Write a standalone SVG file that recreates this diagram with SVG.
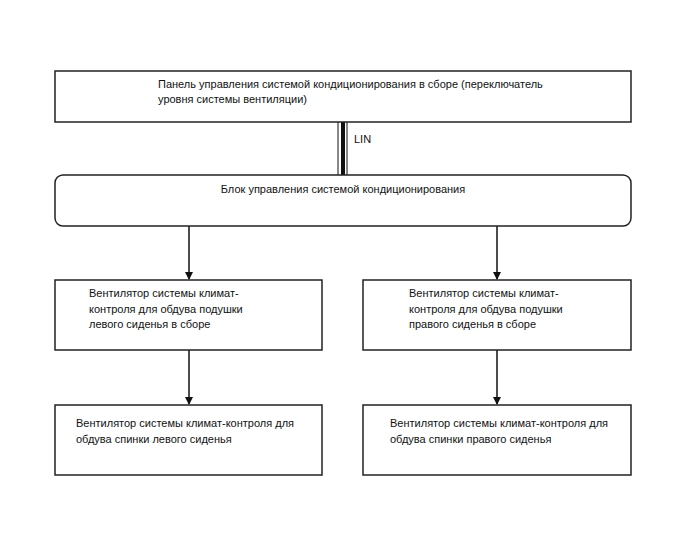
<svg xmlns="http://www.w3.org/2000/svg" width="688" height="560" viewBox="0 0 688 560">
<defs>
<style>
.box{fill:#fff;stroke:#222;stroke-width:1.5}
.t{font-family:"Liberation Sans",Arial,sans-serif;font-size:11px;fill:#111}
.c{fill:none;stroke:#111;stroke-width:1.5}
</style>
<marker id="ah" markerWidth="8" markerHeight="10" refX="7" refY="4" orient="auto" markerUnits="userSpaceOnUse" viewBox="0 0 8 8">
<path d="M0,0 L8,4 L0,8 Z" fill="#111"/>
</marker>
</defs>
<rect width="688" height="560" fill="#fff"/>
<g id="connectors">
<line x1="338" y1="122" x2="338" y2="175" stroke="#111" stroke-width="1"/>
<line x1="343" y1="122" x2="343" y2="175" stroke="#111" stroke-width="4"/>
<line x1="347" y1="122" x2="347" y2="175" stroke="#111" stroke-width="1"/>
<text class="t" x="354" y="143">LIN</text>
<line class="c" x1="189" y1="226" x2="189" y2="279" marker-end="url(#ah)"/>
<line class="c" x1="497" y1="226" x2="497" y2="279" marker-end="url(#ah)"/>
<line class="c" x1="189" y1="350" x2="189" y2="404" marker-end="url(#ah)"/>
<line class="c" x1="497" y1="350" x2="497" y2="404" marker-end="url(#ah)"/>
</g>
<g id="panel">
<rect class="box" x="55" y="71" width="576" height="51"/>
<text class="t" x="158" y="88">Панель управления системой кондиционирования в сборе (переключатель</text>
<text class="t" x="158" y="103">уровня системы вентиляции)</text>
</g>
<g id="control-unit">
<rect class="box" x="55" y="175" width="576" height="51" rx="8"/>
<text class="t" x="343" y="193" text-anchor="middle">Блок управления системой кондиционирования</text>
</g>
<g id="fan-cushion-left">
<rect class="box" x="55" y="280" width="267" height="70"/>
<text class="t" x="89" y="297">Вентилятор системы климат-</text>
<text class="t" x="89" y="313">контроля для обдува подушки</text>
<text class="t" x="89" y="328">левого сиденья в сборе</text>
</g>
<g id="fan-cushion-right">
<rect class="box" x="363" y="280" width="268" height="70"/>
<text class="t" x="409" y="297">Вентилятор системы климат-</text>
<text class="t" x="409" y="313">контроля для обдува подушки</text>
<text class="t" x="409" y="328">правого сиденья в сборе</text>
</g>
<g id="fan-back-left">
<rect class="box" x="55" y="405" width="267" height="70"/>
<text class="t" x="76" y="427">Вентилятор системы климат-контроля для</text>
<text class="t" x="76" y="443">обдува спинки левого сиденья</text>
</g>
<g id="fan-back-right">
<rect class="box" x="363" y="405" width="268" height="70"/>
<text class="t" x="390" y="427">Вентилятор системы климат-контроля для</text>
<text class="t" x="390" y="443">обдува спинки правого сиденья</text>
</g>
</svg>
